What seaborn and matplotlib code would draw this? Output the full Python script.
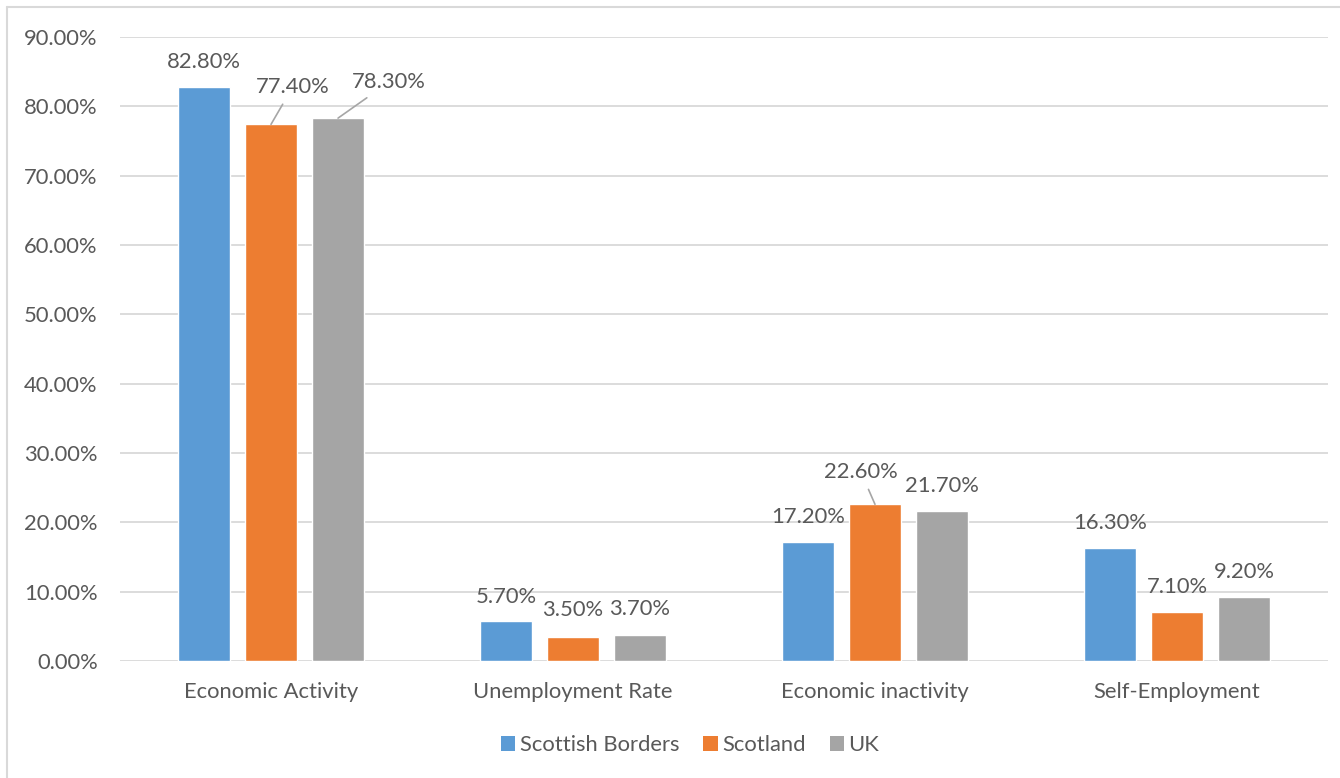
import matplotlib
matplotlib.use("Agg")
import matplotlib.pyplot as plt
from matplotlib.lines import Line2D
from matplotlib.patches import Patch
import seaborn as sns
import pandas as pd

categories = ["Economic Activity", "Unemployment Rate", "Economic inactivity", "Self-Employment"]
series_names = ["Scottish Borders", "Scotland", "UK"]
scottish_borders = [0.828, 0.057, 0.172, 0.163]
scotland = [0.774, 0.035, 0.226, 0.071]
uk = [0.783, 0.037, 0.217, 0.092]
y_ticks = [0.0, 0.1, 0.2, 0.3, 0.4, 0.5, 0.6, 0.7, 0.8, 0.9]

colors = ["#5B9BD5", "#ED7D31", "#A5A5A5"]
text_color = "#595959"
grid_color = "#D9D9D9"
FS = 15.8

# label offsets in pixels (dx, dy) from each bar top, per series, per category
label_offsets = [
    [(0, 25), (0, 24.5), (0, 25), (0, 25)],
    [(21.5, 37), (0, 27), (-14, 32), (0, 25)],
    [(51, 36), (0, 26), (0, 25), (0, 25)],
]
leader = [
    [False, False, False, False],
    [True, False, True, False],
    [True, False, False, False],
]

values = [scottish_borders, scotland, uk]
rows = []
for s, vals in zip(series_names, values):
    for c, v in zip(categories, vals):
        rows.append({"category": c, "series": s, "value": v})
df = pd.DataFrame(rows)

sns.set_theme(style="white")
plt.rcParams["font.family"] = ["Lato", "DejaVu Sans"]

fig = plt.figure(figsize=(13.4, 7.78), dpi=100)
ax = fig.add_axes([120 / 1340, 1 - 661 / 778, 1208 / 1340, 624 / 778])

sns.barplot(data=df, x="category", y="value", hue="series", hue_order=series_names,
            order=categories, palette=colors, width=0.666, gap=0.224,
            saturation=1, ax=ax, legend=False, errorbar=None, zorder=3)

ax.set_ylim(0, 0.9)
ax.set_xlim(-0.5, 3.5)
ax.set_yticks(y_ticks)
ax.set_yticklabels([f"{t*100:.2f}%" for t in y_ticks])
ax.yaxis.grid(True, color=grid_color, linewidth=1.3, zorder=0)
ax.set_axisbelow(True)
for sp in ax.spines.values():
    sp.set_visible(False)
ax.tick_params(axis="y", length=0, pad=16, labelsize=FS, labelcolor=text_color)
ax.tick_params(axis="x", length=0, pad=15, labelsize=FS, labelcolor=text_color)
ax.set_xlabel("")
ax.set_ylabel("")

for i, cont in enumerate(ax.containers):
    for j, bar in enumerate(cont):
        x = bar.get_x() + bar.get_width() / 2
        h = bar.get_height()
        dx, dy = label_offsets[i][j]
        kw = {}
        if leader[i][j]:
            kw["arrowprops"] = dict(arrowstyle="-", color="#A6A6A6", lw=1.2,
                                    shrinkA=3, shrinkB=0)
        ax.annotate(f"{h*100:.2f}%", xy=(x, h), xytext=(dx, dy),
                    textcoords="offset pixels", ha="center", va="center",
                    fontsize=FS, color=text_color, **kw)

handles = [Patch(facecolor=c, edgecolor="none") for c in colors]
fig.legend(handles, series_names, loc="center", bbox_to_anchor=(0.515, 1 - 745 / 778),
           ncol=3, frameon=False, fontsize=FS, labelcolor=text_color,
           handlelength=0.65, handleheight=0.65, handletextpad=0.2, columnspacing=1.1)

# outer chart border (top and left visible)
fig.add_artist(Line2D([7 / 1340, 7 / 1340], [0, 1 - 7 / 778], transform=fig.transFigure,
                      color=grid_color, lw=1.5))
fig.add_artist(Line2D([7 / 1340, 1], [1 - 7 / 778, 1 - 7 / 778], transform=fig.transFigure,
                      color=grid_color, lw=1.5))

fig.savefig("out.png", dpi=100, facecolor="white")
